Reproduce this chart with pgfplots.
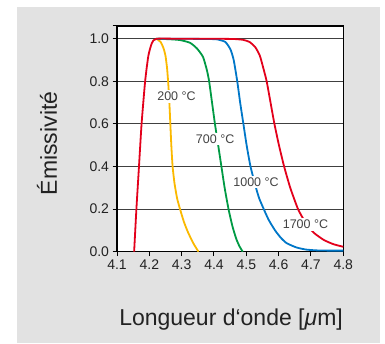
\documentclass[border=0pt]{standalone}
\usepackage{pgfplots}
\pgfplotsset{compat=1.18}
\usepackage{fontspec}
\setmainfont{Liberation Sans}
\definecolor{bgpanel}{HTML}{E2E2E2}
\definecolor{cred}{HTML}{E3001B}
\definecolor{cyel}{HTML}{FBB900}
\definecolor{cgreen}{HTML}{009A44}
\definecolor{cblue}{HTML}{0077C8}
\definecolor{txt}{HTML}{222222}
\begin{document}
\begin{tikzpicture}
\useasboundingbox (0,0) rectangle (385pt,343pt);
\fill[bgpanel] (17pt,0) rectangle (380pt,336pt);
\begin{axis}[
  at={(117pt,91.3pt)}, anchor=south west,
  scale only axis, width=226.3pt, height=225.7pt,
  xmin=4.1, xmax=4.8, ymin=0, ymax=1.06,
  axis background/.style={fill=white},
  xtick={4.1,4.2,...,4.8}, ytick={0,0.2,...,1.0},
  extra y ticks={1.06}, extra y tick labels={},
  extra y tick style={grid=none},
  xtick pos=bottom, ytick pos=left,
  tick align=outside, major tick length=4.5pt,
  tick style={black, line width=1pt},
  ymajorgrids, grid style={black!75, line width=1.1pt},
  axis line style={black, line width=1.1pt},
  /pgf/number format/assume math mode=true,
  /pgf/number format/.cd, fixed, fixed zerofill, precision=1, /pgfplots/.cd,
  ticklabel style={font=\fontsize{14}{16}\selectfont, text=txt},
  xlabel={Longueur d‘onde [\textit{μ}m]},
  ylabel={Émissivité},
  label style={font=\fontsize{23}{27}\selectfont, text=txt},
  xlabel style={at={(axis description cs:0.504,-0.325)}, anchor=base},
  ylabel style={at={(axis description cs:-0.266,0.48)}, anchor=base},
  every axis plot/.append style={line width=1.8pt, smooth, tension=0.35},
]
% 200 C
\addplot[cyel] coordinates {
(4.222,1.0)(4.235,0.985)(4.244,0.955)(4.250,0.92)(4.255,0.86)(4.259,0.78)(4.262,0.7)(4.265,0.6)(4.268,0.5)(4.272,0.4)(4.278,0.32)(4.286,0.25)(4.295,0.2)(4.307,0.14)(4.320,0.09)(4.336,0.04)(4.352,0.0)};
% 700 C
\addplot[cgreen] coordinates {
(4.222,1.0)(4.26,0.998)(4.295,0.994)(4.326,0.981)(4.347,0.955)(4.366,0.915)(4.378,0.853)(4.385,0.8)(4.394,0.7)(4.403,0.6)(4.413,0.5)(4.423,0.4)(4.433,0.3)(4.445,0.2)(4.457,0.12)(4.469,0.06)(4.479,0.025)(4.489,0.0)};
% 1000 C
\addplot[cblue] coordinates {
(4.222,1.0)(4.30,1.0)(4.38,0.999)(4.41,0.997)(4.435,0.985)(4.451,0.95)(4.461,0.9)(4.472,0.8)(4.481,0.7)(4.491,0.6)(4.501,0.5)(4.513,0.4)(4.530,0.3)(4.540,0.25)(4.554,0.2)(4.569,0.15)(4.589,0.1)(4.607,0.065)(4.625,0.04)(4.655,0.02)(4.685,0.01)(4.72,0.006)(4.76,0.005)(4.8,0.005)};
% 1700 C
\addplot[cred] coordinates {
(4.153,0.0)(4.160,0.2)(4.168,0.4)(4.176,0.6)(4.187,0.8)(4.197,0.92)(4.208,0.98)(4.222,1.0)(4.30,1.0)(4.40,1.0)(4.46,0.999)(4.49,0.995)(4.51,0.985)(4.528,0.96)(4.542,0.92)(4.553,0.86)(4.563,0.8)(4.575,0.7)(4.587,0.6)(4.601,0.5)(4.617,0.4)(4.636,0.3)(4.660,0.2)(4.682,0.14)(4.708,0.09)(4.740,0.055)(4.770,0.035)(4.8,0.023)};
\begin{scope}[every node/.style={fill=white, inner sep=2pt, text=txt!85, font=\fontsize{12.5}{14}\selectfont}]
\node at (axis cs:4.284,0.728) {200 °C};
\node at (axis cs:4.4035,0.529) {700 °C};
\node at (axis cs:4.530,0.327) {1000 °C};
\node at (axis cs:4.683,0.128) {1700 °C};
\end{scope}
\end{axis}
\end{tikzpicture}
\end{document}
